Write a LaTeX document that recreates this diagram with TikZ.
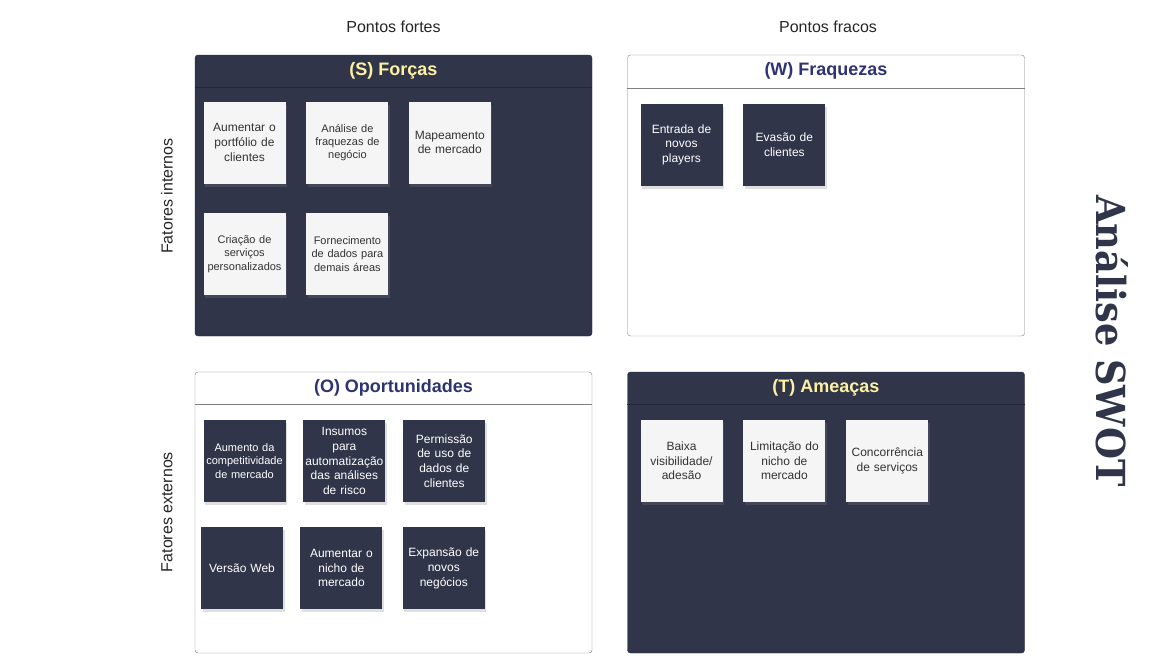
\documentclass[tikz,border=0pt]{standalone}
\usepackage{fontspec}
\setmainfont{Liberation Sans}
\newfontfamily\swotfont{DejaVu Serif}
\usetikzlibrary{positioning,shadows}
\definecolor{swotnavy}{HTML}{31354A}
\definecolor{swotpaper}{HTML}{F5F5F5}
\definecolor{swotyellow}{HTML}{FDF1A3}
\definecolor{swotblue}{HTML}{2E3372}
\definecolor{swotframe}{HTML}{808080}

\begin{document}
\begin{tikzpicture}[x=1pt,y=-1pt,node distance=20pt,
  quad/.style={rectangle,rounded corners=3pt,minimum width=397pt,minimum height=281pt,inner sep=0pt},
  darkquad/.style={quad,fill=swotnavy,draw=swotnavy!80!black},
  lightquad/.style={quad,fill=white,draw=swotframe},
  head/.style={font=\fontsize{18}{21}\selectfont\bfseries},
  note/.style={rectangle,minimum size=82pt,inner sep=1pt,text width=80pt,align=center,
    font=\fontsize{12}{14.6}\selectfont,
    drop shadow={shadow xshift=1.5pt,shadow yshift=-3pt,opacity=.25}},
  small/.style={font=\fontsize{11}{13.4}\selectfont},
  papernote/.style={note,fill=swotpaper,text=black!80},
  darknote/.style={note,fill=swotnavy,text=white},
  side/.style={font=\fontsize{16}{19}\selectfont,text=black!85}]

\useasboundingbox (0,0) rectangle (1175,662);

\node[side] (fortes) at (393.5,27) {Pontos fortes};
\node[side] (fracos) at (828,27) {Pontos fracos};
\node[side,rotate=90] (internos) at (167,196) {Fatores internos};
\node[side,rotate=90] (externos) at (167,512) {Fatores externos};
\node[rotate=-90,xscale=.92,text=swotnavy,font=\swotfont\fontsize{40}{44}\selectfont\bfseries] (swot) at (1112,341) {Análise SWOT};

\node[darkquad] (S) at (393.5,195.5) {};
\node[lightquad] (W) at (826,195.5) {};
\node[lightquad] (O) at (393.5,512.5) {};
\node[darkquad] (T) at (826,512.5) {};

\draw[swotnavy!70!black] ([yshift=-32pt]S.north west) -- ([yshift=-32pt]S.north east);
\draw[swotframe] ([yshift=-33pt]W.north west) -- ([yshift=-33pt]W.north east);
\draw[swotframe] ([yshift=-32pt]O.north west) -- ([yshift=-32pt]O.north east);
\draw[swotnavy!70!black] ([yshift=-32pt]T.north west) -- ([yshift=-32pt]T.north east);

\node[head,text=swotyellow] (s_head) at ([yshift=-16pt]S.north) {(S) Forças};
\node[head,text=swotblue] (w_head) at ([yshift=-16pt]W.north) {(W) Fraquezas};
\node[head,text=swotblue] (o_head) at ([yshift=-16pt]O.north) {(O) Oportunidades};
\node[head,text=swotyellow] (t_head) at ([yshift=-16pt]T.north) {(T) Ameaças};

\node[papernote] (s_1) at (244.5,142.5) {Aumentar o\\portfólio de\\clientes};
\node[papernote,small] (s_2) [right=20.5pt of s_1] {Análise de\\fraquezas de\\negócio};
\node[papernote] (s_3) [right=of s_2] {Mapeamento\\de mercado};
\node[papernote,small] (s_4) [below=29pt of s_1] {Criação de\\serviços\\personalizados};
\node[papernote,small] (s_5) [right=20.5pt of s_4] {Fornecimento\\de dados para\\demais áreas};

\node[darknote] (w_1) at (681.5,144.5) {Entrada de\\novos\\players};
\node[darknote] (w_2) [right=20.5pt of w_1] {Evasão de\\clientes};

\node[darknote,small] (o_1) at (244.5,461) {Aumento da\\competitividade\\de mercado};
\node[darknote] (o_2) [right=17.5pt of o_1] {Insumos\\para\\automatização\\das análises\\de risco};
\node[darknote] (o_3) [right=17.5pt of o_2] {Permissão\\de uso de\\dados de\\clientes};
\node[darknote] (o_4) at (242,568.3) {Versão Web};
\node[darknote] (o_5) [right=17pt of o_4] {Aumentar o\\nicho de\\mercado};
\node[darknote] (o_6) [right=of o_5] {Expansão de\\novos\\negócios};

\node[papernote] (t_1) at (681.5,461) {Baixa\\visibilidade/\\adesão};
\node[papernote] (t_2) [right=20.5pt of t_1] {Limitação do\\nicho de\\mercado};
\node[papernote] (t_3) [right=20.5pt of t_2] {Concorrência\\de serviços};

\end{tikzpicture}
\end{document}
